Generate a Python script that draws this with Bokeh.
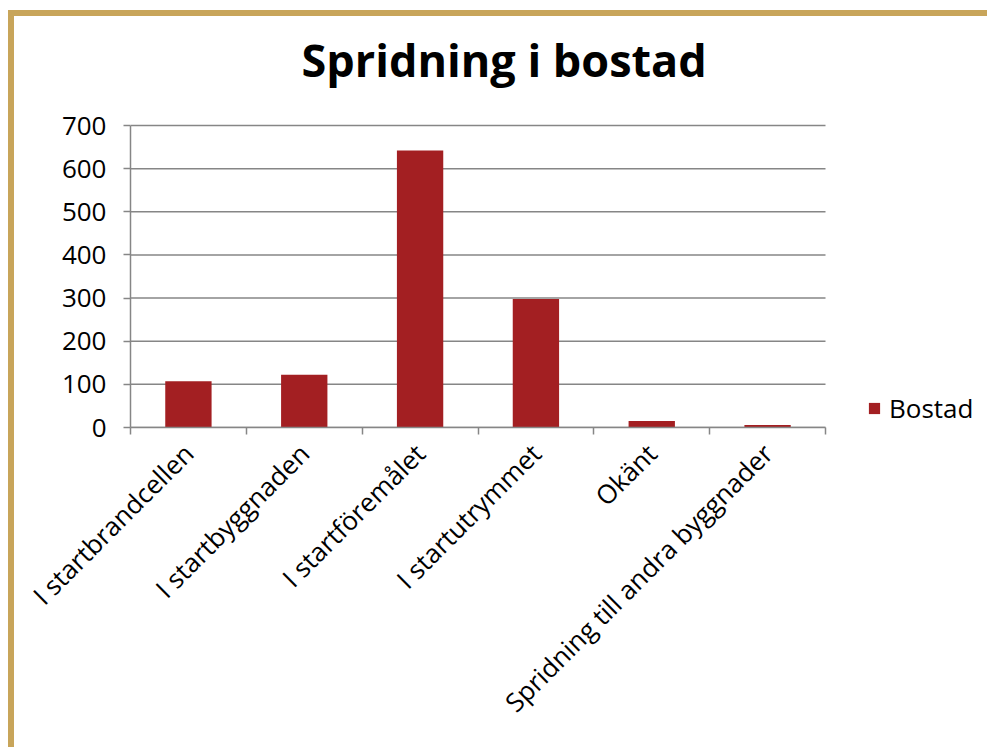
import math
from bokeh.plotting import figure
from bokeh.models import (ColumnDataSource, FixedTicker, Legend, LegendItem, Title, Range1d)
from bokeh.embed import file_html
from bokeh.resources import INLINE

categories = ["I startbrandcellen", "I startbyggnaden", "I startföremålet",
              "I startutrymmet", "Okänt", "Spridning till andra byggnader"]
values = [107, 122, 642, 298, 15, 6]
series_name = "Bostad"
y_ticks = [0, 100, 200, 300, 400, 500, 600, 700]
y_max = 700

FONT = "Open Sans"
BAR = "#A31F22"
GRID = "#868686"
GOLD = "#C8A55A"

# layout (pixels on the chart canvas)
W, H = 979, 737
AX_L, AX_R = 116, 811          # axis extent
FRAME_R = 975                  # frame extends right to hold the legend
AX_T, AX_B = 109, 411          # top gridline and zero line
FRAME_T = 77                   # frame extends above top gridline (title room)

n = len(categories)
px_per_cat = (AX_R - AX_L) / n
x_end = n + (FRAME_R - AX_R) / px_per_cat
px_per_val = (AX_B - AX_T) / y_max
y_end = y_max + (AX_T - FRAME_T) / px_per_val

x_pos = [i + 0.5 for i in range(n)]
src = ColumnDataSource(dict(x=x_pos, top=values, cat=categories))
grid_src = ColumnDataSource(dict(y=y_ticks, x0=[0] * len(y_ticks), x1=[n] * len(y_ticks)))

p = figure(width=W, height=H, output_backend="svg", toolbar_location=None,
           x_range=Range1d(0, x_end), y_range=Range1d(0, y_end),
           min_border_left=AX_L, min_border_top=FRAME_T, min_border_bottom=H - AX_B,
           min_border_right=W - FRAME_R)
p.styles = {"border-left": f"6px solid {GOLD}", "border-top": f"6px solid {GOLD}",
            "margin-left": "8px", "margin-top": "10px"}

p.title = Title(text="Spridning i bostad", align="left", text_font=FONT,
                text_font_size="45px", text_font_style="bold", text_color="#000000",
                offset=171, standoff=8)

p.outline_line_color = None
p.background_fill_color = "white"
p.border_fill_color = "white"
p.grid.visible = False

# horizontal gridlines limited to the category span
p.segment(x0="x0", x1="x1", y0="y", y1="y", source=grid_src,
          line_color=GRID, line_width=1.5)

r = p.vbar(x="x", top="top", width=0.4, source=src, fill_color=BAR, line_color=None)

# y axis
p.yaxis.ticker = FixedTicker(ticks=y_ticks)
p.yaxis.bounds = (0, y_max)
p.yaxis.axis_line_color = GRID
p.yaxis.axis_line_width = 1.5
p.yaxis.major_tick_line_color = GRID
p.yaxis.major_tick_line_width = 1.5
p.yaxis.major_tick_out = 7
p.yaxis.major_tick_in = 0
p.yaxis.minor_tick_line_color = None
p.yaxis.major_label_text_font = FONT
p.yaxis.major_label_text_font_size = "26px"
p.yaxis.major_label_text_color = "#000000"
p.yaxis.major_label_standoff = 17

# x axis
p.xaxis.bounds = (0, n)
p.xaxis.ticker = FixedTicker(ticks=x_pos, minor_ticks=list(range(n + 1)))
p.xaxis.major_label_overrides = {x: c for x, c in zip(x_pos, categories)}
p.xaxis.axis_line_color = GRID
p.xaxis.axis_line_width = 1.5
p.xaxis.major_tick_line_color = None
p.xaxis.minor_tick_line_color = GRID
p.xaxis.minor_tick_line_width = 1.5
p.xaxis.minor_tick_out = 7
p.xaxis.minor_tick_in = 0
p.xaxis.major_label_orientation = math.pi / 4
p.xaxis.major_label_text_font = FONT
p.xaxis.major_label_text_font_size = "26px"
p.xaxis.major_label_text_color = "#000000"
p.xaxis.major_label_standoff = 14

legend = Legend(items=[LegendItem(label=series_name, renderers=[r])],
                location=(737, 1), border_line_color=None, background_fill_alpha=0,
                padding=0, margin=0, glyph_width=14, glyph_height=14,
                label_text_font=FONT, label_text_font_size="26px",
                label_text_color="#000000", label_standoff=8, label_height=14)
p.add_layout(legend, "center")

open("out.html", "w").write(file_html(p, INLINE))
